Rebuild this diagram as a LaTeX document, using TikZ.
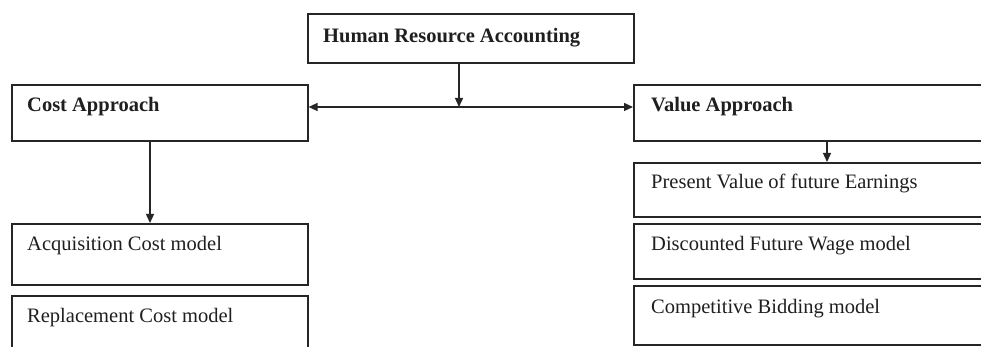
\documentclass[tikz,border=0pt]{standalone}
\usepackage{fontspec}
\setmainfont{Liberation Serif}
\usetikzlibrary{arrows.meta}
\begin{document}
\begin{tikzpicture}[x=1pt,y=-1pt,
  box/.style={draw=black!85, line width=1.6pt, rectangle, inner sep=0pt, anchor=north west, fill=white},
  lbl/.style={anchor=base west, inner sep=0pt, text=black!88, font=\fontsize{20.5}{24}\selectfont},
  conn/.style={draw=black!85, line width=1.4pt, -{Triangle[length=9pt,width=8pt]}},
  conn2/.style={draw=black!85, line width=1.4pt, {Triangle[length=9pt,width=8pt]}-{Triangle[length=9pt,width=8pt]}}]
\useasboundingbox (0,0) rectangle (981,347);
\clip (0,0) rectangle (981,347);
\fill[white] (0,0) rectangle (981,347);
% boxes
\node[box, minimum width=326pt, minimum height=49pt] (hra) at (307,13) {};
\node[box, minimum width=296pt, minimum height=56pt] (cost) at (11,84) {};
\node[box, minimum width=362pt, minimum height=56pt] (value) at (633,84) {};
\node[box, minimum width=296pt, minimum height=61pt] (acq) at (11,223) {};
\node[box, minimum width=296pt, minimum height=66pt] (repl) at (11,295) {};
\node[box, minimum width=362pt, minimum height=54pt] (pvfe) at (633,162) {};
\node[box, minimum width=362pt, minimum height=55pt] (dfw) at (633,223) {};
\node[box, minimum width=362pt, minimum height=59pt] (cb) at (633,285) {};
% labels
\node[lbl] (hrat) at ([xshift=16pt,yshift=-30pt]hra.north west) {\textbf{Human Resource Accounting}};
\node[lbl] (costt) at ([xshift=16pt,yshift=-28pt]cost.north west) {\textbf{Cost Approach}};
\node[lbl] (valuet) at ([xshift=18pt,yshift=-28pt]value.north west) {\textbf{Value Approach}};
\node[lbl] (acqt) at ([xshift=16pt,yshift=-27pt]acq.north west) {Acquisition Cost model};
\node[lbl] (replt) at ([xshift=16pt,yshift=-27pt]repl.north west) {Replacement Cost model};
\node[lbl] (pvfet) at ([xshift=18pt,yshift=-27pt]pvfe.north west) {Present Value of future Earnings};
\node[lbl] (dfwt) at ([xshift=18pt,yshift=-27pt]dfw.north west) {Discounted Future Wage model};
\node[lbl] (cbt) at ([xshift=18pt,yshift=-28pt]cb.north west) {Competitive Bidding model};
% connectors
\coordinate (j) at (459,107);
\draw[conn] (j |- hra.south) -- (j);
\draw[conn2] (j -| cost.east) -- (j -| value.west);
\draw[conn] ([xshift=139pt]cost.south west) -- ([xshift=139pt]acq.north west);
\draw[conn] ([xshift=194pt]value.south west) -- ([xshift=194pt]pvfe.north west);
\end{tikzpicture}
\end{document}
